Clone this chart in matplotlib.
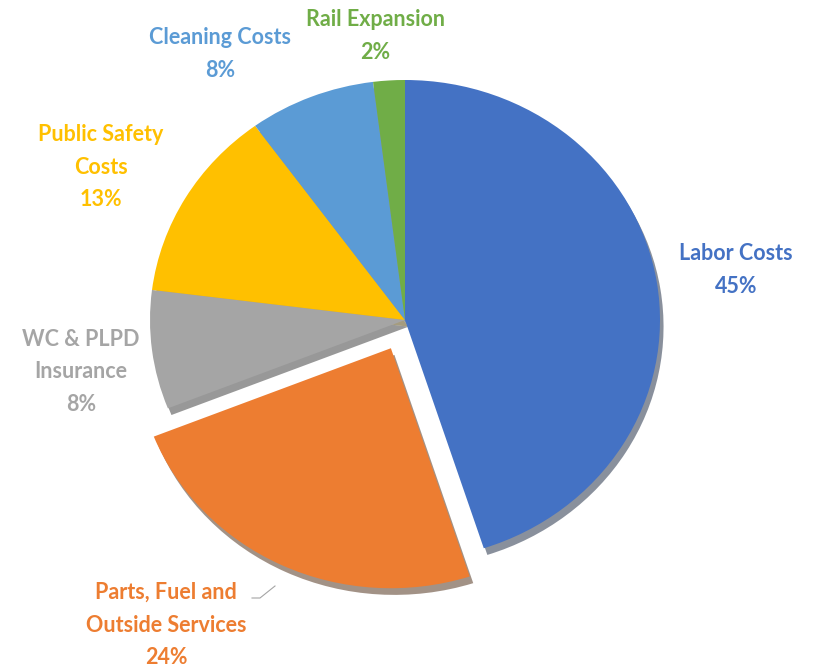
import matplotlib.pyplot as plt

# 비용 항목
labels = ['Labor Costs', 'Parts, Fuel and\nOutside Services', 'WC & PLPD\nInsurance',
          'Public Safety\nCosts', 'Cleaning Costs', 'Rail Expansion']
shares = [45, 24, 8, 13, 8, 2]
colors = ['#4472C4', '#ED7D31', '#A5A5A5', '#FFC000', '#5B9BD5', '#70AD47']
explode = [0, 0.13, 0, 0, 0, 0]

W, H = 814, 671
cx, cy = 405, 320      # 파이 중심 (픽셀)
rx, ry = 255, 240      # 가로/세로 반지름

plt.rcParams['font.family'] = ['Lato', 'DejaVu Sans']

fig = plt.figure(figsize=(W / 100, H / 100), dpi=100)
ax = fig.add_axes([0, 0, 1, 1])

wedges, _ = ax.pie(shares, colors=colors, explode=explode, startangle=90,
                   counterclock=False, radius=1,
                   wedgeprops={'linewidth': 0},
                   shadow={'ox': 0.01, 'oy': -0.02, 'shade': 0.7})

ax.set_aspect('auto')
ax.set_xlim(-cx / rx, (W - cx) / rx)
ax.set_ylim(-(H - cy) / ry, cy / ry)
ax.axis('off')


def px(x, y):
    return (x / W, 1 - y / H)


# 라벨 위치 (픽셀)
label_pos = [(736, 270), (166, 625), (81, 372), (101, 167), (220, 54), (375, 36)]

for lab, val, col, (x, y) in zip(labels, shares, colors, label_pos):
    fig.text(*px(x, y), f'{lab}\n{val}%', color=col, ha='center', va='center',
             fontsize=15.5, fontweight='bold', linespacing=1.68)

# Parts 라벨 지시선
fig.add_artist(plt.Line2D([252 / W, 260 / W, 275 / W],
                          [1 - 598 / H, 1 - 598 / H, 1 - 586 / H],
                          color='#A5A5A5', linewidth=0.8))

fig.savefig('out.png', dpi=100)
